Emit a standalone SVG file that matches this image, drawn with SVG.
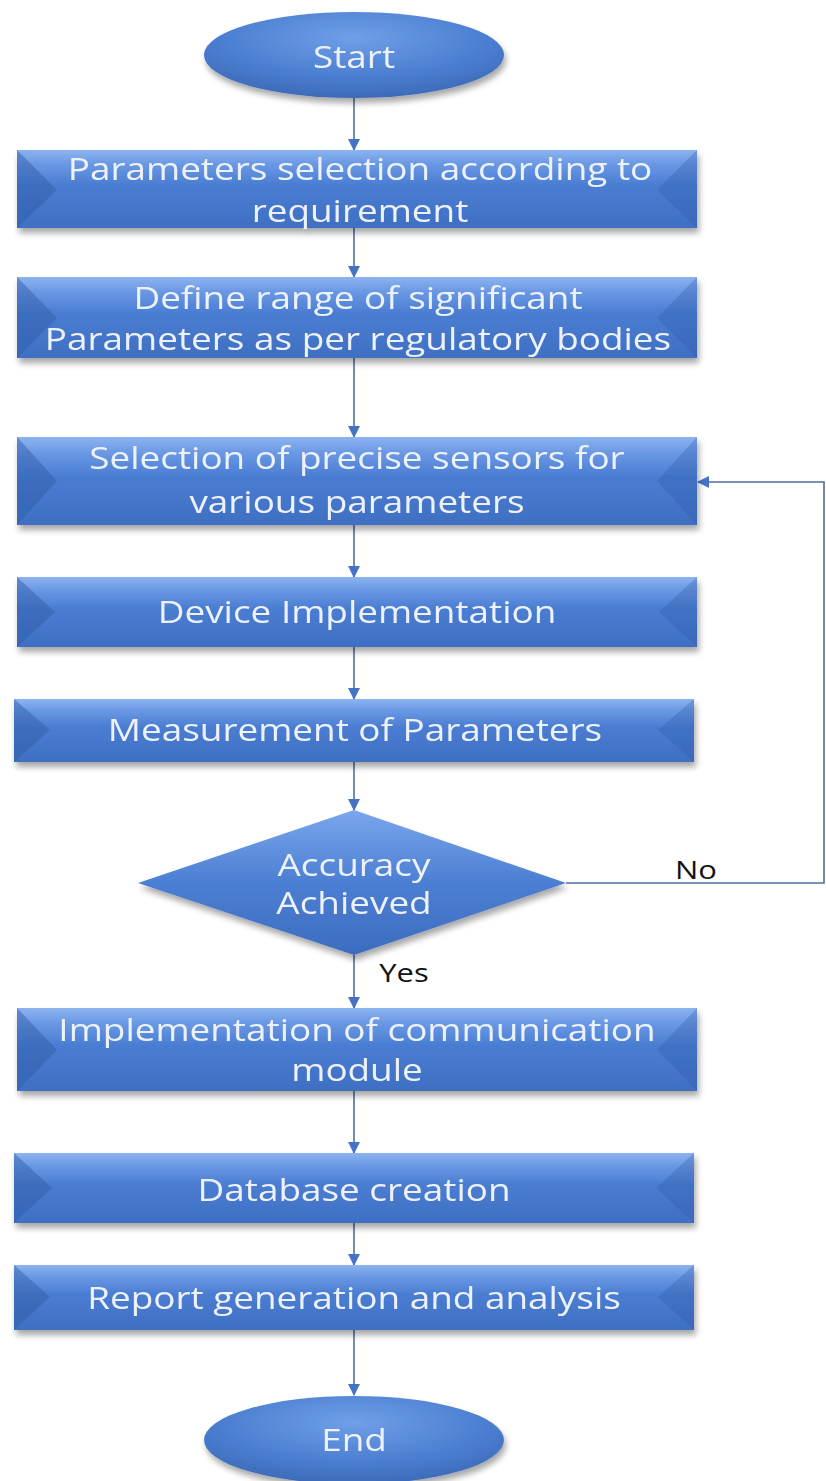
<svg xmlns="http://www.w3.org/2000/svg" width="826" height="1481" viewBox="0 0 826 1481">
  <defs>
    <linearGradient id="boxFill" x1="0" y1="0" x2="0" y2="1">
      <stop offset="0" stop-color="#8db4f0"/>
      <stop offset="0.18" stop-color="#6a98e4"/>
      <stop offset="0.45" stop-color="#4a7dd2"/>
      <stop offset="1" stop-color="#3f6fc2"/>
    </linearGradient>
    <radialGradient id="ovalFill" cx="0.5" cy="0.3" r="0.75">
      <stop offset="0" stop-color="#6f9fe8"/>
      <stop offset="0.6" stop-color="#4b7ed0"/>
      <stop offset="1" stop-color="#3a66b4"/>
    </radialGradient>
    <linearGradient id="diamondFill" x1="0" y1="0" x2="0" y2="1">
      <stop offset="0" stop-color="#7aa6ec"/>
      <stop offset="0.5" stop-color="#4c7fd3"/>
      <stop offset="1" stop-color="#3d6cbf"/>
    </linearGradient>
    <filter id="shadow" x="-10%" y="-20%" width="120%" height="160%">
      <feGaussianBlur in="SourceAlpha" stdDeviation="3"/>
      <feOffset dx="2" dy="5"/>
      <feComponentTransfer><feFuncA type="linear" slope="0.35"/></feComponentTransfer>
      <feMerge><feMergeNode/><feMergeNode in="SourceGraphic"/></feMerge>
    </filter>
    <marker id="arrow" viewBox="0 0 12 12" refX="11" refY="6" markerWidth="12" markerHeight="12" markerUnits="userSpaceOnUse" orient="auto">
      <path d="M0,0 L12,6 L0,12 Z" fill="#4472c4"/>
    </marker>
  </defs>
  <style>
    .box { fill: url(#boxFill); }
    .bevelL { fill: #2f5aa6; opacity: 0.45; }
    .bevelR { fill: #2f5aa6; opacity: 0.30; }
    .label { font-family: "Open Sans", "Liberation Sans", sans-serif; font-size: 31px; fill: #edf2fa; text-anchor: middle; }
    .edge { stroke: #4d6f9e; stroke-width: 1.6; fill: none; }
    .tag { font-family: "Open Sans", "Liberation Sans", sans-serif; font-size: 26px; fill: #111111; text-anchor: middle; }
  </style>
  <rect width="826" height="1481" fill="#ffffff"/>

  <!-- connectors -->
  <g id="connectors">
    <line class="edge" x1="354" y1="98" x2="354" y2="150" marker-end="url(#arrow)"/>
    <line class="edge" x1="354" y1="228" x2="354" y2="277" marker-end="url(#arrow)"/>
    <line class="edge" x1="354" y1="358" x2="354" y2="437" marker-end="url(#arrow)"/>
    <line class="edge" x1="354" y1="525" x2="354" y2="577" marker-end="url(#arrow)"/>
    <line class="edge" x1="354" y1="647" x2="354" y2="699" marker-end="url(#arrow)"/>
    <line class="edge" x1="354" y1="762" x2="354" y2="810" marker-end="url(#arrow)"/>
    <line class="edge" x1="354" y1="955" x2="354" y2="1008" marker-end="url(#arrow)"/>
    <line class="edge" x1="354" y1="1091" x2="354" y2="1153" marker-end="url(#arrow)"/>
    <line class="edge" x1="354" y1="1223" x2="354" y2="1265" marker-end="url(#arrow)"/>
    <line class="edge" x1="354" y1="1330" x2="354" y2="1395" marker-end="url(#arrow)"/>
    <polyline class="edge" points="566,883 824,883 824,482 698,482" marker-end="url(#arrow)"/>
    <!-- labels are widened 1.19x horizontally about their centre -->
    <text class="tag" x="696" y="879" transform="matrix(1.19 0 0 1 -132.24 0)">No</text>
    <text class="tag" x="404" y="982" transform="matrix(1.19 0 0 1 -76.76 0)">Yes</text>
  </g>

  <g id="start" filter="url(#shadow)">
    <ellipse cx="354" cy="55" rx="150" ry="43" fill="url(#ovalFill)"/>
    <text class="label" x="354" y="68" transform="matrix(1.19 0 0 1 -67.26 0)">Start</text>
  </g>

  <g id="param-selection" filter="url(#shadow)">
    <rect class="box" x="17" y="150" width="680" height="78"/>
    <polygon class="bevelL" points="17,150 57,190 17,228"/>
    <polygon class="bevelR" points="697,150 657,190 697,228"/>
    <g transform="matrix(1.19 0 0 1 -68.4 0)">
      <text class="label" x="360" y="180">Parameters selection according to</text>
      <text class="label" x="360" y="222">requirement</text>
    </g>
  </g>

  <g id="define-range" filter="url(#shadow)">
    <rect class="box" x="17" y="277" width="680" height="81"/>
    <polygon class="bevelL" points="17,277 57,318 17,358"/>
    <polygon class="bevelR" points="697,277 657,318 697,358"/>
    <g transform="matrix(1.19 0 0 1 -68.02 0)">
      <text class="label" x="358" y="309">Define range of significant</text>
      <text class="label" x="358" y="350">Parameters as per regulatory bodies</text>
    </g>
  </g>

  <g id="sensor-selection" filter="url(#shadow)">
    <rect class="box" x="17" y="437" width="680" height="88"/>
    <polygon class="bevelL" points="17,437 57,481 17,525"/>
    <polygon class="bevelR" points="697,437 657,481 697,525"/>
    <g transform="matrix(1.19 0 0 1 -67.83 0)">
      <text class="label" x="357" y="469">Selection of precise sensors for</text>
      <text class="label" x="357" y="513">various parameters</text>
    </g>
  </g>

  <g id="device-implementation" filter="url(#shadow)">
    <rect class="box" x="17" y="577" width="680" height="70"/>
    <polygon class="bevelL" points="17,577 55,612 17,647"/>
    <polygon class="bevelR" points="697,577 659,612 697,647"/>
    <text class="label" x="357" y="623" transform="matrix(1.19 0 0 1 -67.83 0)">Device Implementation</text>
  </g>

  <g id="measurement" filter="url(#shadow)">
    <rect class="box" x="14" y="699" width="680" height="63"/>
    <polygon class="bevelL" points="14,699 50,730 14,762"/>
    <polygon class="bevelR" points="694,699 658,730 694,762"/>
    <text class="label" x="355" y="741" transform="matrix(1.19 0 0 1 -67.45 0)">Measurement of Parameters</text>
  </g>

  <g id="accuracy-check" filter="url(#shadow)">
    <polygon points="354,810 566,883 354,955 138,883" fill="url(#diamondFill)"/>
    <g transform="matrix(1.19 0 0 1 -67.26 0)">
      <text class="label" x="354" y="876">Accuracy</text>
      <text class="label" x="354" y="914">Achieved</text>
    </g>
  </g>

  <g id="communication-module" filter="url(#shadow)">
    <rect class="box" x="17" y="1008" width="680" height="83"/>
    <polygon class="bevelL" points="17,1008 57,1050 17,1091"/>
    <polygon class="bevelR" points="697,1008 657,1050 697,1091"/>
    <g transform="matrix(1.19 0 0 1 -67.83 0)">
      <text class="label" x="357" y="1041">Implementation of communication</text>
      <text class="label" x="357" y="1081">module</text>
    </g>
  </g>

  <g id="database" filter="url(#shadow)">
    <rect class="box" x="14" y="1153" width="680" height="70"/>
    <polygon class="bevelL" points="14,1153 52,1188 14,1223"/>
    <polygon class="bevelR" points="694,1153 656,1188 694,1223"/>
    <text class="label" x="354" y="1201" transform="matrix(1.19 0 0 1 -67.26 0)">Database creation</text>
  </g>

  <g id="report" filter="url(#shadow)">
    <rect class="box" x="14" y="1265" width="680" height="65"/>
    <polygon class="bevelL" points="14,1265 50,1297 14,1330"/>
    <polygon class="bevelR" points="694,1265 658,1297 694,1330"/>
    <text class="label" x="354" y="1309" transform="matrix(1.19 0 0 1 -67.26 0)">Report generation and analysis</text>
  </g>

  <g id="end" filter="url(#shadow)">
    <ellipse cx="354" cy="1440" rx="150" ry="44" fill="url(#ovalFill)"/>
    <text class="label" x="354" y="1451" transform="matrix(1.19 0 0 1 -67.26 0)">End</text>
  </g>
</svg>
